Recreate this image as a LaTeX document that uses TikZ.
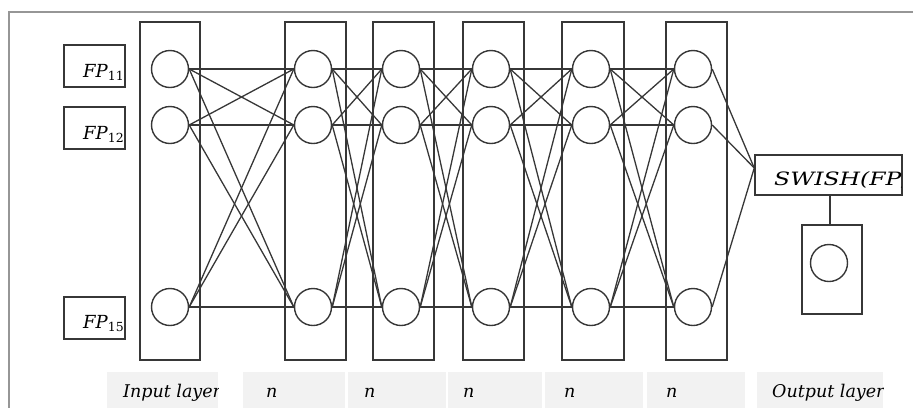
\documentclass[tikz,border=0pt]{standalone}
\usepackage{fontspec}
\newfontfamily\capfont{DejaVu Serif}[ItalicFont={DejaVu Serif Italic}]
\definecolor{ink}{RGB}{55,55,55}
\definecolor{framegray}{RGB}{150,150,150}
\definecolor{cellgray}{RGB}{242,242,242}
\newcommand{\labtext}[1]{{\capfont\itshape\fontsize{17.5}{20}\selectfont #1}}
\newcommand{\fpname}[1]{{\capfont\itshape\fontsize{18}{20}\selectfont FP}\raisebox{-3.5pt}{\capfont\fontsize{12.5}{13}\selectfont #1}}
\begin{document}
\begin{tikzpicture}[x=1pt,y=-1pt,
  layerbox/.style={draw=ink, line width=1.5pt, minimum height=338pt, inner sep=0pt},
  neuron/.style={circle, draw=ink, line width=1.4pt, minimum size=37pt, inner sep=0pt},
  link/.style={draw=ink, line width=1.3pt},
  inbox/.style={draw=ink, line width=1.5pt, minimum width=61pt, minimum height=42pt, inner sep=0pt},
  cell/.style={fill=cellgray, inner sep=0pt, minimum height=36pt, anchor=north west},
  lab/.style={anchor=base west, inner sep=0pt}]
\useasboundingbox (0,0) rectangle (913,408);

% page frame
\draw[framegray, line width=1.2pt] (913,12) -- (9,12) -- (9,408);

% layer columns with three neurons each
\foreach \i/\bx/\w/\nx in {0/170/60/170, 1/315.5/61/313, 2/403.5/61/401,
                           3/493.5/61/491, 4/593/62/591, 5/696.5/61/693} {
  \node[layerbox, minimum width=\w pt] (L\i) at (\bx,191) {};
  \node[neuron] (N\i-1) at (\nx,69) {};
  \node[neuron] (N\i-2) at (\nx,125) {};
  \node[neuron] (N\i-3) at (\nx,307) {};
}

% full connections between consecutive layers
\foreach \i/\j in {0/1,1/2,2/3,3/4,4/5}
  \foreach \a in {1,2,3}
    \foreach \b in {1,2,3}
      \draw[link] (N\i-\a.east) -- (N\j-\b.west);

% input feature boxes
\node[inbox] (fp1) at (94.5,66) {};
\node[inbox] (fp2) at (94.5,128) {};
\node[inbox] (fp3) at (94.5,318) {};
\begin{scope}
  \clip (fp1.south west) rectangle (fp1.north east);
  \node[lab] (fp1t) at (83,77) {\fpname{11}};
\end{scope}
\begin{scope}
  \clip (fp2.south west) rectangle (fp2.north east);
  \node[lab] (fp2t) at (83,139) {\fpname{12}};
\end{scope}
\begin{scope}
  \clip (fp3.south west) rectangle (fp3.north east);
  \node[lab] (fp3t) at (83,328) {\fpname{15}};
\end{scope}

% output activation and output neuron
\node[draw=ink, line width=1.5pt, minimum width=147pt, minimum height=40pt, inner sep=0pt]
  (sw) at (828.5,175) {};
\begin{scope}
  \clip (755,171) rectangle (901,195);
  \node[lab] (swt) at (774,185) {\labtext{\scalebox{1.34}[1.05]{SWISH(FP)}}};
\end{scope}
\foreach \a in {1,2,3}
  \draw[link] (N5-\a.east) -- ([yshift=7pt]sw.west);

\node[draw=ink, line width=1.5pt, minimum width=60pt, minimum height=89pt, inner sep=0pt]
  (ob) at (832,269.5) {};
\node[neuron] (oc) at (829,263) {};
\draw[link, line width=1.4pt] (sw.south -| 830,0) -- (ob.north -| 830,0);

% bottom caption row
\foreach \k/\xa/\xb in {c0/107/218, c1/243/345, c2/348/446, c3/448/542,
                        c4/545/643, c5/647/745, c6/757/883} {
  \node[cell, minimum width={\xb-\xa}] (\k) at (\xa,372) {};
}
\begin{scope}
  \clip (107,372) rectangle (218,408);
  \node[lab] (c0t) at (123,397) {\labtext{Input layer}};
\end{scope}
\foreach \k/\x in {c1/266, c2/364, c3/463, c4/564, c5/666}
  \node[lab] (\k t) at (\x,397) {\labtext{n}};
\begin{scope}
  \clip (757,372) rectangle (883,408);
  \node[lab] (c6t) at (772,397) {\labtext{Output layer}};
\end{scope}
\end{tikzpicture}
\end{document}
